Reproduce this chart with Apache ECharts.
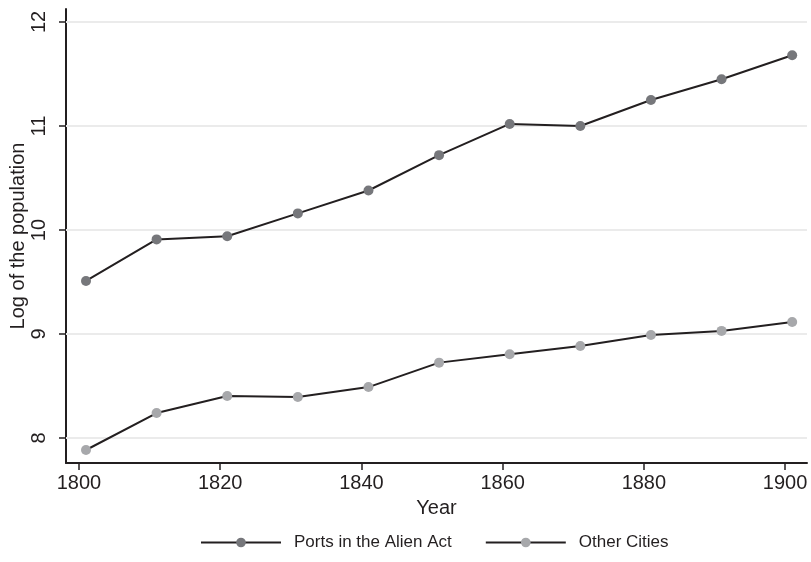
<!DOCTYPE html>
<html>
<head>
<meta charset="utf-8">
<script src="https://cdn.jsdelivr.net/npm/echarts@6/dist/echarts.min.js"></script>
<style>
html,body{margin:0;padding:0;background:#fff;}
#chart{width:811px;height:562px;}
</style>
</head>
<body>
<div id="chart"></div>
<script>
const years = [1801, 1811, 1821, 1831, 1841, 1851, 1861, 1871, 1881, 1891, 1901];
const ports = [9.51, 9.91, 9.94, 10.16, 10.38, 10.72, 11.02, 11.00, 11.25, 11.45, 11.68];
const others = [7.885, 8.24, 8.405, 8.395, 8.49, 8.725, 8.805, 8.885, 8.99, 9.03, 9.115];
const xTicks = [1800, 1820, 1840, 1860, 1880, 1900];
const yTicks = [8, 9, 10, 11, 12];
const seriesNames = ['Ports in the Alien Act', 'Other Cities'];

const FONT = '"Liberation Sans", Arial, Helvetica, sans-serif';
const TXT = '#231f20';

const chart = echarts.init(document.getElementById('chart'), null, {renderer: 'canvas'});
chart.setOption({
  animation: false,
  backgroundColor: '#fff',
  textStyle: {fontFamily: FONT, color: TXT},
  grid: {left: 66, right: 4, top: 9, bottom: 99, containLabel: false, outerBoundsMode: 'none'},
  legend: {
    data: seriesNames,
    bottom: 6,
    left: 195,
    itemWidth: 80,
    itemHeight: 12,
    itemGap: 33,
    textStyle: {fontFamily: FONT, fontSize: 17, color: TXT, padding: [0, 0, 0, 8]}
  },
  xAxis: {
    type: 'value',
    min: 1798.17,
    max: 1903.1,
    name: 'Year',
    nameLocation: 'middle',
    nameGap: 35,
    nameMoveOverlap: false,
    nameTextStyle: {fontFamily: FONT, fontSize: 20, color: TXT},
    axisLine: {show: true, lineStyle: {color: TXT, width: 2}},
    axisTick: {show: true, length: 7, lineStyle: {color: TXT, width: 1.5}, customValues: xTicks},
    axisLabel: {fontFamily: FONT, fontSize: 20, color: TXT, margin: 10, customValues: xTicks, formatter: v => String(v)},
    splitLine: {show: false}
  },
  yAxis: {
    type: 'value',
    min: 7.76,
    max: 12.125,
    name: 'Log of the population',
    nameLocation: 'middle',
    nameRotate: 90,
    nameGap: 38,
    nameMoveOverlap: false,
    nameTextStyle: {fontFamily: FONT, fontSize: 20, color: TXT},
    axisLine: {show: true, lineStyle: {color: TXT, width: 2}},
    axisTick: {show: true, length: 7, lineStyle: {color: TXT, width: 1.5}, customValues: yTicks},
    axisLabel: {fontFamily: FONT, fontSize: 20, color: TXT, rotate: 90, margin: 17, customValues: yTicks},
    splitLine: {show: false}
  },
  series: [
    {
      name: '_grid',
      type: 'line',
      data: [],
      z: 1,
      silent: true,
      markLine: {
        silent: true,
        z: 1,
        symbol: ['none', 'none'],
        label: {show: false},
        emphasis: {disabled: true},
        lineStyle: {color: '#ebebeb', width: 2, type: 'solid'},
        data: yTicks.map(v => ({yAxis: v}))
      }
    },
    {
      name: seriesNames[0],
      type: 'line',
      z: 3,
      data: years.map((y, i) => [y, ports[i]]),
      symbol: 'circle',
      symbolSize: 10,
      showSymbol: true,
      clip: false,
      lineStyle: {color: '#231f20', width: 2},
      itemStyle: {color: '#76777b'}
    },
    {
      name: seriesNames[1],
      type: 'line',
      z: 3,
      data: years.map((y, i) => [y, others[i]]),
      symbol: 'circle',
      symbolSize: 10,
      showSymbol: true,
      clip: false,
      lineStyle: {color: '#231f20', width: 2},
      itemStyle: {color: '#a7a8ab'}
    }
  ]
});
</script>
</body>
</html>
